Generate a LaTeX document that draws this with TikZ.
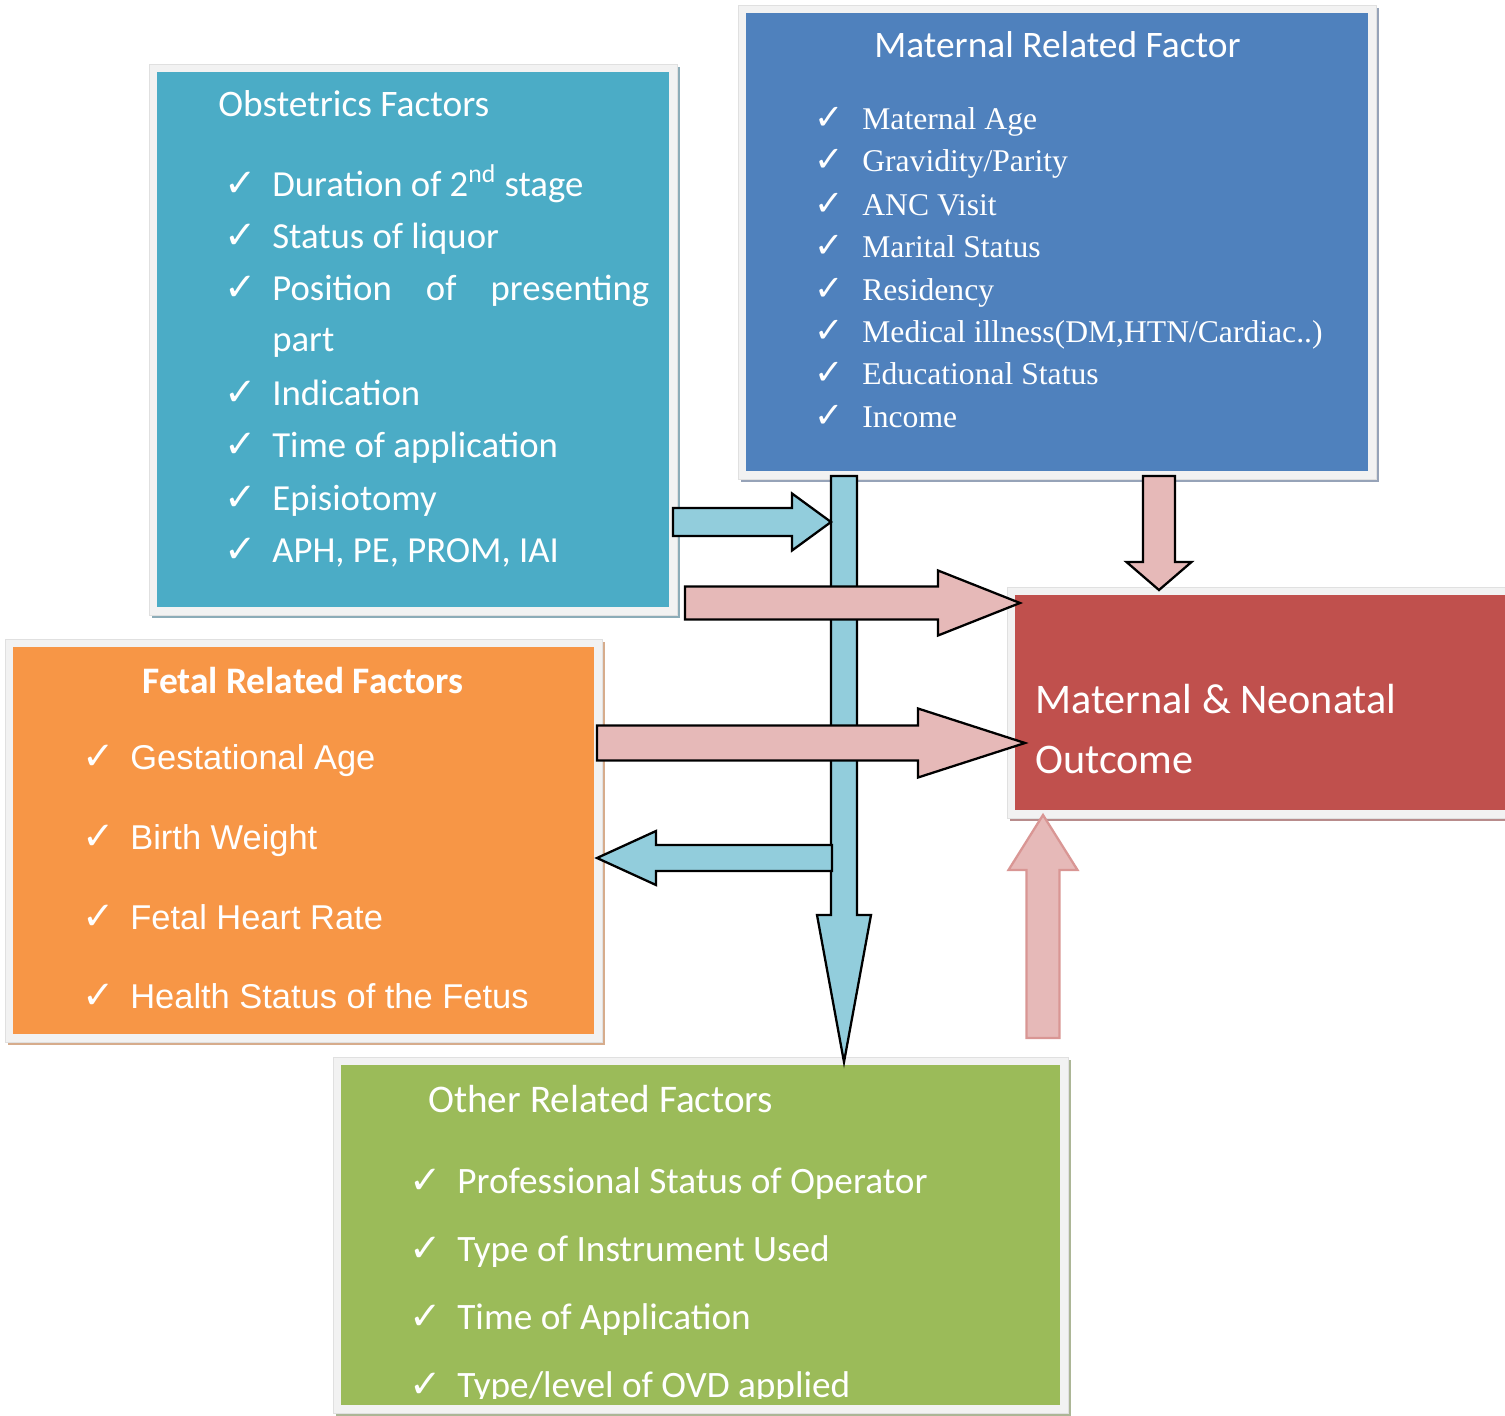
\documentclass[tikz,border=0pt]{standalone}
\usepackage{fontspec}
\setmainfont{Carlito}
\newfontfamily\timesitem{Liberation Serif}
\newfontfamily\arialitem{Liberation Sans}
\newfontfamily\tickfont{DejaVu Sans}
\usetikzlibrary{calc, fit}
\definecolor{obstblue}{RGB}{75, 172, 198}
\definecolor{matblue}{RGB}{79, 129, 189}
\definecolor{fetalorange}{RGB}{247, 150, 70}
\definecolor{outred}{RGB}{192, 80, 77}
\definecolor{othergreen}{RGB}{155, 187, 89}
\definecolor{arrowblue}{RGB}{146, 205, 220}
\definecolor{arrowpink}{RGB}{230, 185, 184}
\definecolor{uppink}{RGB}{217, 150, 148}
\definecolor{boxframe}{RGB}{242, 242, 242}
\definecolor{obstshadow}{RGB}{140, 172, 184}
\definecolor{matshadow}{RGB}{150, 163, 184}
\definecolor{fetalshadow}{RGB}{214, 172, 140}
\definecolor{outshadow}{RGB}{184, 140, 140}
\definecolor{othershadow}{RGB}{172, 182, 150}
\newcommand{\factorbox}[5]{%
    % Shadow (offset down-right)
    \fill[#5] ($#2+(-5,-5)$) rectangle ($#3+(11,11)$);
    % Light frame
    \fill[boxframe, draw=black!12] ($#2+(-8,-8)$) rectangle ($#3+(8,8)$);
    % Coloured face
    \node[fit={#2 #3}, inner sep=0pt, fill=#4] (#1) {};
}
\newcommand{\checkitem}[7]{%
    \node[tick, font=\tickfont\fontsize{#6}{#6}\selectfont] (#2 tick) at (#3,#5) {✓};
    \node[#1] (#2) at (#4,#5) {#7};
}
\newcommand{\blockarrow}[6]{%
    % Tail #2, tip #3, shaft half width #4, head half width #5, head length #6
    \coordinate (ah) at ($(#3)!#6!(#2)$);
    \draw[#1] ($(#2)!#4!90:(#3)$) -- ($(ah)!#4!90:(#3)$) -- ($(ah)!#5!90:(#3)$)
        -- (#3) -- ($(ah)!#5!-90:(#3)$) -- ($(ah)!#4!-90:(#3)$)
        -- ($(#2)!#4!-90:(#3)$) -- cycle;
}

\begin{document}
\begin{tikzpicture}[
    x=0.02cm, y=-0.02cm,
    tick/.style={anchor=base west, inner sep=0pt, text=white},
    heading/.style={anchor=base west, inner sep=0pt, text=white, font=\fontsize{21.3}{26}\selectfont},
    obst item/.style={anchor=base west, inner sep=0pt, text=white, font=\fontsize{20.9}{29.5}\selectfont},
    mat item/.style={anchor=base west, inner sep=0pt, text=white, font=\timesitem\fontsize{18}{22}\selectfont},
    fetal item/.style={anchor=base west, inner sep=0pt, text=white, font=\arialitem\fontsize{19.6}{24}\selectfont},
    other item/.style={anchor=base west, inner sep=0pt, text=white, font=\fontsize{21.2}{26}\selectfont},
    block blue/.style={fill=arrowblue, draw=black, line width=1.3pt},
    block pink/.style={fill=arrowpink, draw=black, line width=1.3pt},
    block soft/.style={fill=arrowpink, draw=uppink, line width=1.3pt}
]
\useasboundingbox (0,0) rectangle (1505,1416);

% =============================================
% Boxes
% =============================================
\factorbox{obst}{(157,72)}{(669,607)}{obstblue}{obstshadow}
\factorbox{matern}{(746,13)}{(1368,471)}{matblue}{matshadow}
\factorbox{fetal}{(13,647)}{(594,1034)}{fetalorange}{fetalshadow}
\factorbox{outcome}{(1015,595)}{(1520,810)}{outred}{outshadow}
\factorbox{other}{(341,1065)}{(1060,1405)}{othergreen}{othershadow}

% Obstetrics factors
\node[heading] (obst title) at (218,117) {Obstetrics Factors};
\checkitem{obst item}{ob1}{224}{272}{196}{22}{Duration of 2\textsuperscript{nd} stage}
\checkitem{obst item}{ob2}{224}{272}{248}{22}{Status of liquor}
\checkitem{obst item}{ob3}{224}{272}{300}{22}{}
\node[obst item, text width=7.54cm, align=left] (ob3 text) at (272,300)
    {Position\hfill of\hfill presenting\\part};
\checkitem{obst item}{ob4}{224}{272}{405}{22}{Indication}
\checkitem{obst item}{ob5}{224}{272}{457}{22}{Time of application}
\checkitem{obst item}{ob6}{224}{272}{510}{22}{Episiotomy}
\checkitem{obst item}{ob7}{224}{272}{562}{22}{APH, PE, PROM, IAI}

% Maternal related factor
\node[heading] (mat title) at (874,58) {Maternal Related Factor};
\checkitem{mat item}{ma1}{814}{862}{130}{20}{Maternal Age}
\checkitem{mat item}{ma2}{814}{862}{172}{20}{Gravidity/Parity}
\checkitem{mat item}{ma3}{814}{862}{215}{20}{ANC Visit}
\checkitem{mat item}{ma4}{814}{862}{257}{20}{Marital Status}
\checkitem{mat item}{ma5}{814}{862}{300}{20}{Residency}
\checkitem{mat item}{ma6}{814}{862}{342}{20}{Medical illness(DM,HTN/Cardiac..)}
\checkitem{mat item}{ma7}{814}{862}{384}{20}{Educational Status}
\checkitem{mat item}{ma8}{814}{862}{427}{20}{Income}

% Fetal related factors
\node[heading, font=\bfseries\fontsize{21.3}{26}\selectfont] (fetal title) at (142,693) {Fetal Related Factors};
\checkitem{fetal item}{fe1}{82}{130}{769}{22}{Gestational Age}
\checkitem{fetal item}{fe2}{82}{130}{849}{22}{Birth Weight}
\checkitem{fetal item}{fe3}{82}{130}{929}{22}{Fetal Heart Rate}
\checkitem{fetal item}{fe4}{82}{130}{1008}{22}{Health Status of the Fetus}

% Outcome
\node[heading, font=\fontsize{24}{30}\selectfont] (out1) at (1035,713) {Maternal \& Neonatal};
\node[heading, font=\fontsize{24}{30}\selectfont] (out2) at (1035,773) {Outcome};

% Other related factors (last line cut by the box)
\begin{scope}
\clip (341,1065) rectangle (1060,1398);
\node[heading, font=\fontsize{22.3}{26}\selectfont] (other title) at (428,1112) {Other Related Factors};
\checkitem{other item}{ot1}{409}{457}{1193}{22}{Professional Status of Operator}
\checkitem{other item}{ot2}{409}{457}{1261}{22}{Type of Instrument Used}
\checkitem{other item}{ot3}{409}{457}{1329}{22}{Time of Application}
\checkitem{other item}{ot4}{409}{457}{1397}{22}{Type/level of OVD applied}
\end{scope}

% =============================================
% Block arrows
% =============================================
\coordinate (bar tail) at (844,476);
\coordinate (bar tip) at (844,1062);
\coordinate (ob tail) at (673,522);
\coordinate (ob tip) at (831,522);
\coordinate (fe tail) at (832,858);
\coordinate (fe tip) at (597,858);
\coordinate (top tail) at (685,603);
\coordinate (top tip) at (1020,603);
\coordinate (mid tail) at (597,743);
\coordinate (mid tip) at (1025,743);
\coordinate (down tail) at (1159,476);
\coordinate (down tip) at (1159,590);
\coordinate (up tail) at (1043,1038);
\coordinate (up tip) at (1043,815);

% Vertical bar down to other factors
\blockarrow{block blue}{bar tail}{bar tip}{0.26cm}{0.54cm}{2.94cm}
% Obstetrics into the bar
\blockarrow{block blue}{ob tail}{ob tip}{0.28cm}{0.57cm}{0.78cm}
% Bar out to fetal factors
\blockarrow{block blue}{fe tail}{fe tip}{0.26cm}{0.54cm}{1.18cm}
% Pink arrows into outcome
\blockarrow{block pink}{top tail}{top tip}{0.33cm}{0.65cm}{1.64cm}
\blockarrow{block pink}{mid tail}{mid tip}{0.35cm}{0.69cm}{2.14cm}
\blockarrow{block pink}{down tail}{down tip}{0.32cm}{0.65cm}{0.56cm}
\blockarrow{block soft}{up tail}{up tip}{0.33cm}{0.69cm}{1.1cm}

\end{tikzpicture}
\end{document}
